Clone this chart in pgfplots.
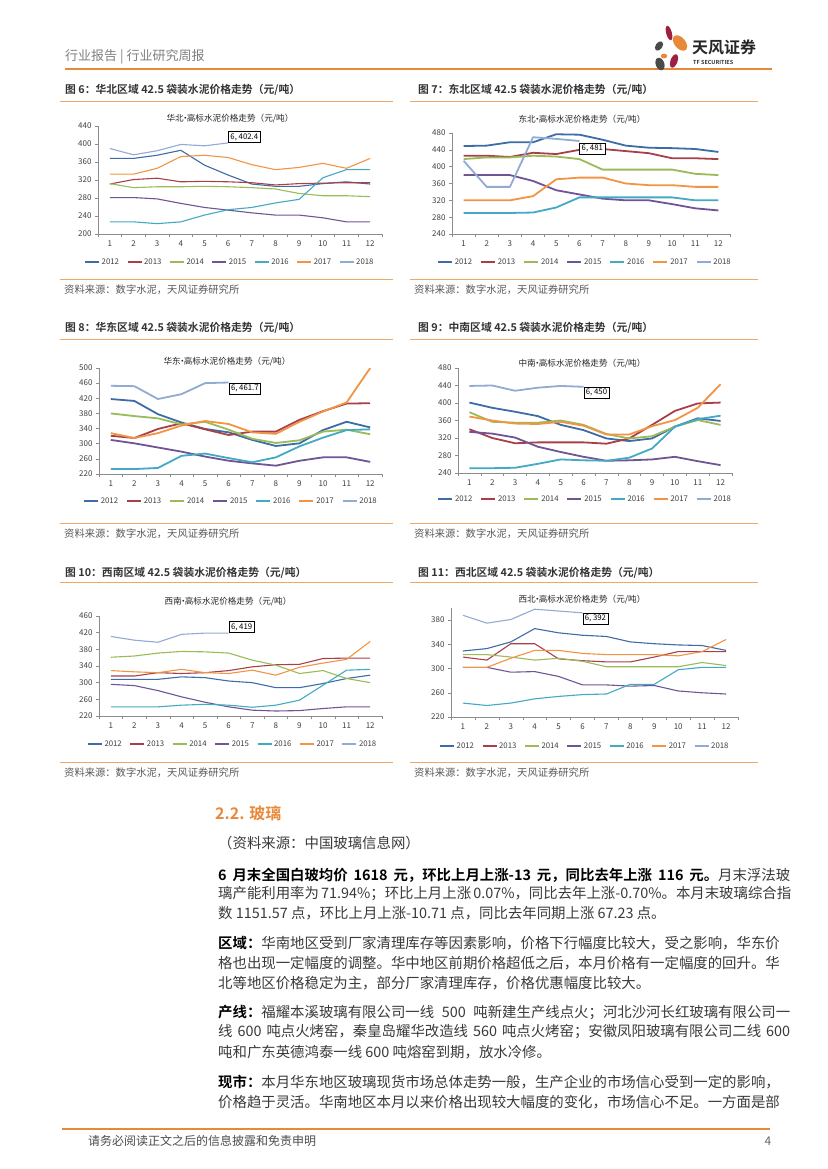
\documentclass[border=0pt]{standalone}
\usepackage{pgfplots}
\pgfplotsset{compat=1.18}
\usepackage{pgfplotstable}
\usepackage{fontspec}
\setmainfont{Noto Sans CJK SC}[BoldFont={Noto Sans CJK SC Bold}]
\XeTeXlinebreaklocale "zh"
\XeTeXlinebreakskip=0pt plus 1pt

\definecolor{c12}{HTML}{3D6CA6}
\definecolor{c13}{HTML}{A8404A}
\definecolor{c14}{HTML}{9BBB59}
\definecolor{c15}{HTML}{6F5596}
\definecolor{c16}{HTML}{43A9C4}
\definecolor{c17}{HTML}{F39443}
\definecolor{c18}{HTML}{92ABD3}
\definecolor{axgray}{HTML}{8C8C8C}
\definecolor{tick}{HTML}{404040}
\definecolor{tforange}{HTML}{E8893A}
\definecolor{lineor}{HTML}{EFA766}
\definecolor{srcgray}{HTML}{595959}
\definecolor{body}{HTML}{3A3A3A}
\definecolor{tfred}{HTML}{9E1F3F}
\definecolor{tfgray}{HTML}{4A4A4A}

% 华北
\pgfplotstableread{
m y12 y13 y14 y15 y16 y17 y18
1 368 311 312 281 227 333 390
2 368 321 303 281 227 333 376
3 375 324 305 278 223 346 385
4 386 316 305 268 227 372 399
5 353 317 306 259 242 375 396
6 331 316 305 253 254 370 402.4
7 311 314 303 247 259 354 nan
8 306 309 300 242 269 343 nan
9 306 312 290 242 277 348 nan
10 312 313 285 236 325 357 nan
11 316 314 285 227 343 346 nan
12 311 314 283 227 343 368 nan
}\tHB
% 东北
\pgfplotstableread{
m y12 y13 y14 y15 y16 y17 y18
1 449 426 418 380 290 320 414
2 450 426 422 380 290 320 352
3 458 423 422 380 290 320 352
4 458 433 426 366 291 330 470
5 477 430 424 344 303 370 466
6 476 440 418 334 327 374 461
7 464 442 393 324 327 374 nan
8 450 437 393 320 327 360 nan
9 445 432 393 320 327 356 nan
10 444 420 393 311 327 356 nan
11 442 420 383 301 320 352 nan
12 435 418 380 296 320 352 nan
}\tDB
% 华东
\pgfplotstableread{
m y12 y13 y14 y15 y16 y17 y18
1 418 321 380 310 233 328 453
2 413 315 373 301 233 315 452
3 378 339 367 290 236 328 418
4 356 354 351 279 268 348 431
5 339 338 358 266 274 360 460
6 330 323 337 255 262 352 461.7
7 310 332 313 248 251 330 nan
8 294 332 302 242 264 326 nan
9 301 363 309 255 293 358 nan
10 336 386 332 264 316 385 nan
11 358 406 337 264 336 409 nan
12 343 407 325 252 338 500 nan
}\tHD
% 中南
\pgfplotstableread{
m y12 y13 y14 y15 y16 y17 y18
1 401 340 379 334 251 369 439
2 389 320 357 330 251 360 440
3 380 308 355 321 252 353 428
4 370 310 355 300 261 352 435
5 350 310 360 288 271 357 439
6 338 310 350 277 269 348 437
7 319 307 329 268 268 328 nan
8 313 319 319 269 275 328 nan
9 319 350 324 271 296 347 nan
10 346 382 346 277 346 361 nan
11 365 399 361 267 363 389 nan
12 359 401 350 258 371 443 nan
}\tZN
% 西南
\pgfplotstableread{
m y12 y13 y14 y15 y16 y17 y18
1 308 316 361 296 242 329 411
2 308 316 364 293 242 326 402
3 308 324 371 281 242 324 397
4 314 322 375 266 246 332 416
5 312 324 374 253 248 324 419
6 304 329 371 242 246 322 419
7 300 338 354 234 241 330 nan
8 288 343 342 232 246 318 nan
9 288 344 322 233 258 337 nan
10 298 358 329 238 294 347 nan
11 310 359 310 242 330 356 nan
12 318 359 300 242 332 399 nan
}\tXN
% 西北
\pgfplotstableread{
m y12 y13 y14 y15 y16 y17 y18
1 329 319 323 302 243 302 388
2 333 314 323 302 239 302 375
3 344 341 319 294 243 317 381
4 366 341 314 295 250 330 398
5 359 316 317 287 254 330 395
6 355 313 312 273 257 325 392
7 353 311 303 273 258 323 nan
8 344 311 303 271 274 323 nan
9 341 319 303 272 274 323 nan
10 339 328 303 263 298 321 nan
11 338 328 310 260 302 328 nan
12 330 328 305 258 302 348 nan
}\tXB

\pgfplotsset{
  cem/.style={
    scale only axis, anchor=south west,
    xmin=0.5, xmax=12.5, xtick={1,...,12},
    minor xtick={0.5,1.5,...,12.5},
    axis lines*=left,
    axis line style={draw=axgray, line width=0.6pt},
    tick align=outside,
    major x tick style={draw=none},
    minor x tick style={draw=axgray, line width=0.5pt},
    ytick style={draw=axgray, line width=0.5pt},
    major tick length=3pt, minor tick length=3pt,
    ticklabel style={font=\fontsize{8}{9}\selectfont, text=tick},
    /pgf/number format/assume math mode=true,
    /pgf/number format/1000 sep={},
    unbounded coords=jump,
    legend columns=7,
    legend style={draw=none, fill=none, anchor=center,
      font=\fontsize{7.8}{8}\selectfont, text=tick,
      /tikz/every even column/.append style={column sep=6pt}},
    legend image code/.code={\draw[##1] (0pt,0pt) -- (14pt,0pt);},
    every axis plot/.append style={no markers, line join=round},
  },
}
\tikzset{lbl/.style={draw=black, line width=0.6pt, fill=white, inner sep=2pt,
  font=\fontsize{7.8}{8}\selectfont, text=black}}

\newcommand\seven[1]{%
  \addplot[c12] table[x=m,y=y12]{#1};
  \addplot[c13] table[x=m,y=y13]{#1};
  \addplot[c14] table[x=m,y=y14]{#1};
  \addplot[c15] table[x=m,y=y15]{#1};
  \addplot[c16] table[x=m,y=y16]{#1};
  \addplot[c17] table[x=m,y=y17]{#1};
  \addplot[c18] table[x=m,y=y18]{#1};
  \legend{2012,2013,2014,2015,2016,2017,2018}}
\newcommand\jl[1]{\makebox[572pt][s]{#1}}
\newcommand\dt{\kern-0.32em·\kern-0.32em}

\begin{document}
\begin{tikzpicture}
\fill[white] (0,0) rectangle (827pt,-1169pt);
\path[use as bounding box] (0,0) rectangle (827pt,-1169pt);

% ---------- 图6 华北
\begin{axis}[cem, at={(98pt,-234pt)}, width=284pt, height=108pt,
  ymin=200, ymax=440, ytick={200,240,...,440},
  every axis plot/.append style={line width=1.1pt},
  legend style={at={(0.465,-0.259)}}]
\seven{\tHB}
\node[lbl, anchor=south west] at (axis cs:6,402.4) {6, 402.4};
\end{axis}

% ---------- 图7 东北
\begin{axis}[cem, at={(452pt,-234pt)}, width=278pt, height=101pt,
  ymin=240, ymax=480, ytick={240,280,...,480},
  every axis plot/.append style={line width=1.8pt},
  legend style={at={(0.478,-0.277)}}]
\seven{\tDB}
\node[lbl, anchor=north west, yshift=-2pt] at (axis cs:6,461) {6, 481};
\end{axis}

% ---------- 图8 华东
\begin{axis}[cem, at={(99pt,-474pt)}, width=283pt, height=106pt,
  ymin=220, ymax=500, ytick={220,260,...,500},
  every axis plot/.append style={line width=1.8pt},
  legend style={at={(0.466,-0.255)}}]
\seven{\tHD}
\node[lbl, anchor=north west] at (axis cs:6,461.7) {6, 461.7};
\end{axis}

% ---------- 图9 中南
\begin{axis}[cem, at={(458pt,-473pt)}, width=274pt, height=105pt,
  ymin=240, ymax=480, ytick={240,280,...,480},
  every axis plot/.append style={line width=1.8pt},
  legend style={at={(0.464,-0.248)}}]
\seven{\tZN}
\node[lbl, anchor=north west] at (axis cs:6,437) {6, 450};
\end{axis}

% ---------- 图10 西南
\begin{axis}[cem, at={(99pt,-716pt)}, width=283pt, height=100pt,
  ymin=220, ymax=460, ytick={220,260,...,460},
  every axis plot/.append style={line width=1.1pt},
  legend style={at={(0.473,-0.28)}}]
\seven{\tXN}
\node[lbl, anchor=south west] at (axis cs:6,419) {6, 419};
\end{axis}

% ---------- 图11 西北
\begin{axis}[cem, at={(451pt,-717pt)}, width=287pt, height=109pt,
  ymin=220, ymax=400, ytick={220,260,...,380},
  every axis plot/.append style={line width=1.1pt},
  legend style={at={(0.467,-0.266)}}]
\seven{\tXB}
\node[lbl, anchor=north west] at (axis cs:6,392) {6, 392};
\end{axis}

\begin{scope}[x=1pt, y=-1pt]
% header
\node[anchor=west, inner sep=0, text=black!50, font=\fontsize{13}{14}\selectfont] at (65,57) {行业报告 | 行业研究周报};
\draw[tforange, line width=1.8pt] (65,69) -- (772,69);
% logo
\fill[tfred, rotate around={15:(669,33)}] (669,33) ellipse (2.8 and 7.5);
\fill[tfgray, rotate around={-35:(659,46)}] (659,46) ellipse (3.4 and 5.3);
\fill[tforange, rotate around={40:(680,43)}] (680,43) ellipse (5.5 and 9);
\fill[tforange] (664,56) ellipse (3.2 and 2.4);
\fill[tfgray, rotate around={20:(660,64)}] (660,64) ellipse (4.3 and 6.5);
\fill[tfred, rotate around={-20:(674,61)}] (674,61) ellipse (3.5 and 7);
\node[anchor=west, inner sep=0, text=black!85, font=\fontsize{16}{16}\selectfont\bfseries] at (692,47) {天风证券};
\node[anchor=west, inner sep=0, text=black!80, font=\fontsize{5.5}{6}\selectfont\bfseries] at (693,62) {TF SECURITIES};

% chart titles, rules, sources
\tikzset{ct/.style={anchor=west, inner sep=0, text=black!80, font=\fontsize{10.8}{11}\selectfont\bfseries},
  it/.style={inner sep=0, text=black!85, font=\fontsize{8.6}{9}\selectfont},
  src/.style={anchor=west, inner sep=0, text=srcgray, font=\fontsize{10.3}{11}\selectfont}}
\node[ct] at (65,90) {图 6：华北区域 42.5 袋装水泥价格走势（元/吨）};
\node[ct] at (418,90) {图 7：东北区域 42.5 袋装水泥价格走势（元/吨）};
\node[ct] at (65,328) {图 8：华东区域 42.5 袋装水泥价格走势（元/吨）};
\node[ct] at (418,328) {图 9：中南区域 42.5 袋装水泥价格走势（元/吨）};
\node[ct] at (65,573) {图 10：西南区域 42.5 袋装水泥价格走势（元/吨）};
\node[ct] at (418,573) {图 11：西北区域 42.5 袋装水泥价格走势（元/吨）};
\foreach \y in {101,339,582} {
  \draw[lineor, line width=0.9pt] (60,\y) -- (393,\y);
  \draw[lineor, line width=0.9pt] (410,\y) -- (758,\y);}
\foreach \y in {279,523,762} {
  \draw[lineor, line width=0.9pt] (60,\y) -- (393,\y);
  \draw[lineor, line width=0.9pt] (410,\y) -- (758,\y);}
\node[it] at (230,119) {华北\dt 高标水泥价格走势（元/吨）};
\node[it] at (582,120) {东北\dt 高标水泥价格走势（元/吨）};
\node[it] at (227,362) {华东\dt 高标水泥价格走势（元/吨）};
\node[it] at (582,364) {中南\dt 高标水泥价格走势（元/吨）};
\node[it] at (228,602) {西南\dt 高标水泥价格走势（元/吨）};
\node[it] at (582,600) {西北\dt 高标水泥价格走势（元/吨）};
\foreach \y in {290,534,773} {
  \node[src] at (64,\y) {资料来源：数字水泥，天风证券研究所};
  \node[src] at (414,\y) {资料来源：数字水泥，天风证券研究所};}

% body text
\tikzset{bt/.style={anchor=west, inner sep=0, text=body, font=\fontsize{14.4}{15}\selectfont}}
\node[anchor=west, inner sep=0, text=tforange, font=\fontsize{16}{16}\selectfont\bfseries] at (215,813) {2.2. 玻璃};
\node[bt] at (218,843) {（资料来源：中国玻璃信息网）};
\node[bt] at (218,875) {\jl{\textbf{\color{black}6 月末全国白玻均价 1618 元，环比上月上涨-13 元，同比去年上涨 116 元。}月末浮法玻}};
\node[bt] at (218,894) {\jl{璃产能利用率为 71.94\%；环比上月上涨 0.07\%，同比去年上涨-0.70\%。本月末玻璃综合指}};
\node[bt] at (218,913) {数 1151.57 点，环比上月上涨-10.71 点，同比去年同期上涨 67.23 点。};
\node[bt] at (218,943) {\jl{\textbf{\color{black}区域：}华南地区受到厂家清理库存等因素影响，价格下行幅度比较大，受之影响，华东价}};
\node[bt] at (218,963) {\jl{格也出现一定幅度的调整。华中地区前期价格超低之后，本月价格有一定幅度的回升。华}};
\node[bt] at (218,983) {北等地区价格稳定为主，部分厂家清理库存，价格优惠幅度比较大。};
\node[bt] at (218,1012) {\jl{\textbf{\color{black}产线：}福耀本溪玻璃有限公司一线 500 吨新建生产线点火；河北沙河长红玻璃有限公司一}};
\node[bt] at (218,1032) {\jl{线 600 吨点火烤窑，秦皇岛耀华改造线 560 吨点火烤窑；安徽凤阳玻璃有限公司二线 600}};
\node[bt] at (218,1052) {吨和广东英德鸿泰一线 600 吨熔窑到期，放水冷修。};
\node[bt] at (218,1082) {\jl{\textbf{\color{black}现市：}本月华东地区玻璃现货市场总体走势一般，生产企业的市场信心受到一定的影响，}};
\node[bt] at (218,1102) {\jl{价格趋于灵活。华南地区本月以来价格出现较大幅度的变化，市场信心不足。一方面是部}};

% footer
\draw[tforange, line width=1.5pt] (62,1129) -- (770,1129);
\node[anchor=west, inner sep=0, text=black!70, font=\fontsize{12}{13}\selectfont] at (88,1141) {请务必阅读正文之后的信息披露和免责申明};
\node[inner sep=0, text=black!60, font=\fontsize{12}{13}\selectfont] at (768,1141) {4};
\end{scope}
\end{tikzpicture}
\end{document}
